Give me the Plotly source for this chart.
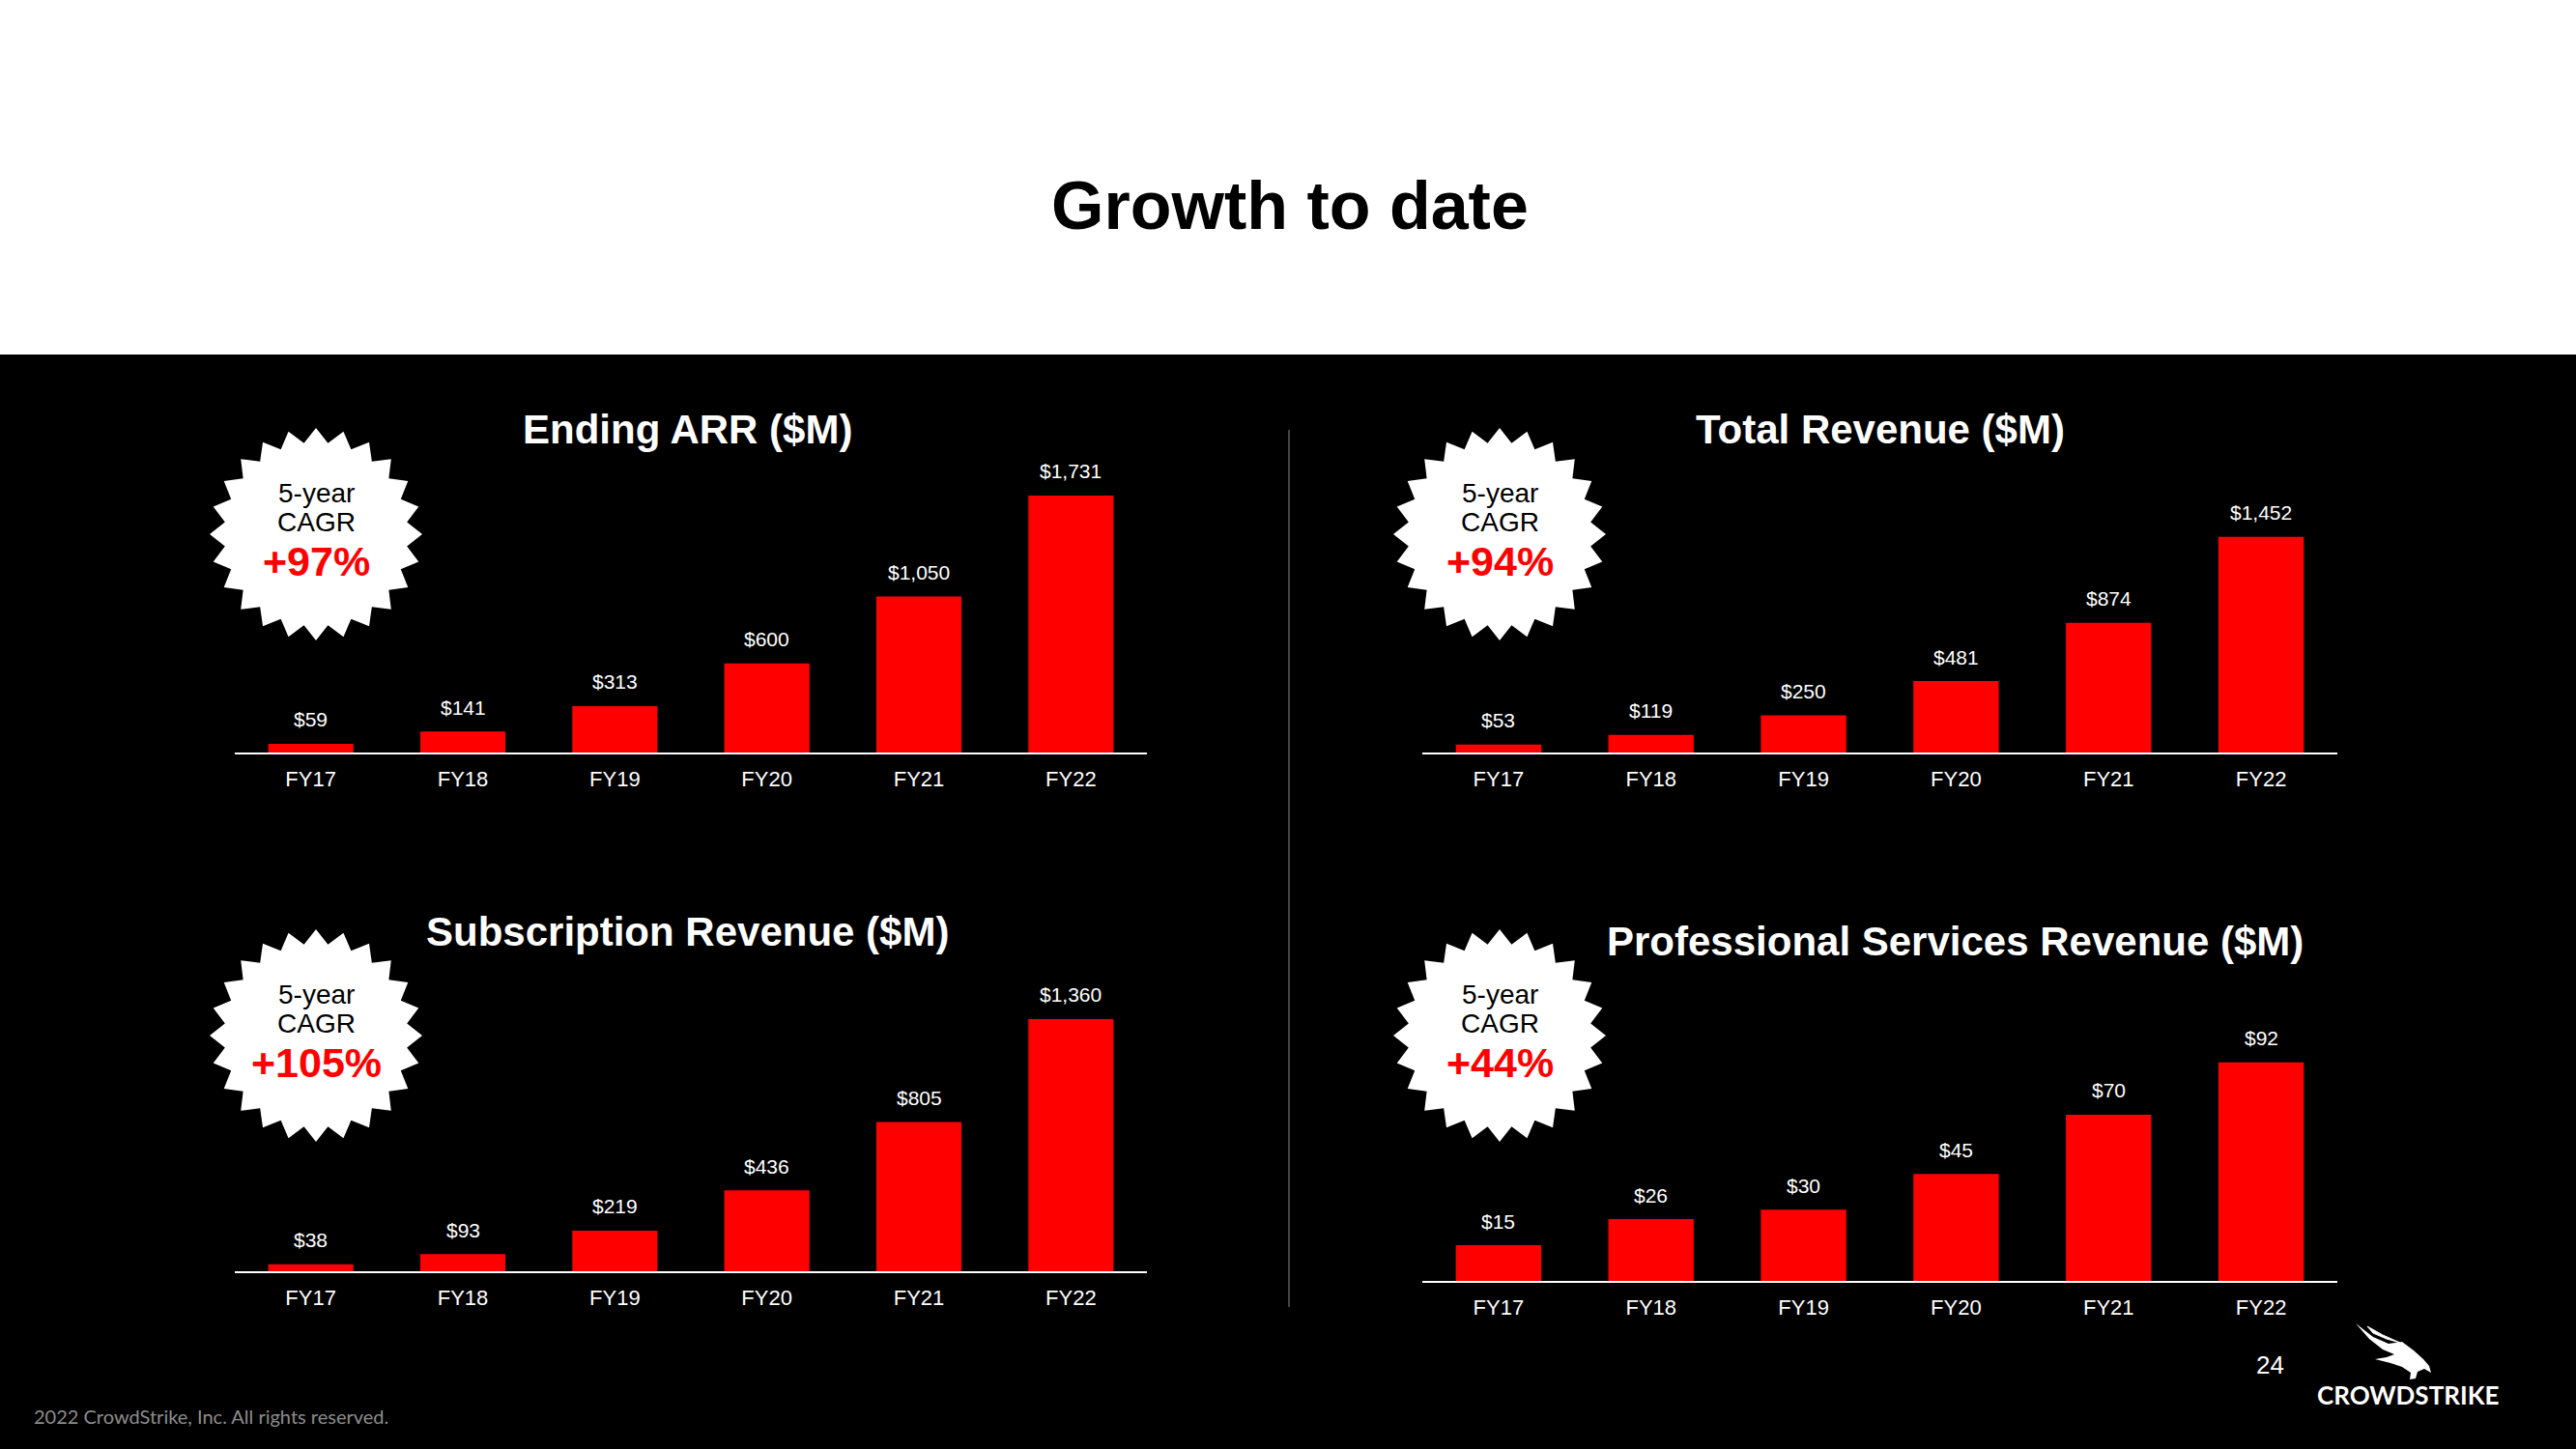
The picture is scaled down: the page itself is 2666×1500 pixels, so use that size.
import numpy as np
import plotly.graph_objects as go

W, H = 2666, 1500

categories = ["FY17", "FY18", "FY19", "FY20", "FY21", "FY22"]
ending_arr = [59, 141, 313, 600, 1050, 1731]
total_revenue = [53, 119, 250, 481, 874, 1452]
subscription_revenue = [38, 93, 219, 436, 805, 1360]
prof_services_revenue = [15, 26, 30, 45, 70, 92]

chart_titles = ["Ending ARR ($M)", "Total Revenue ($M)",
                "Subscription Revenue ($M)", "Professional Services Revenue ($M)"]
cagr_values = ["+97%", "+94%", "+105%", "+44%"]
main_title = "Growth to date"
footer_text = "2022 CrowdStrike, Inc. All rights reserved."
page_number = "24"
brand = "CROWDSTRIKE"

RED = "#ff0000"
FONT = "Liberation Sans, Arial, sans-serif"


def px(x):
    return x / W


def py(y):
    return 1 - y / H


def note(x, y, text, size, color, family=FONT, xanchor="center"):
    return dict(x=px(x), y=py(y), xref="paper", yref="paper", text=text,
                showarrow=False, xanchor=xanchor, yanchor="middle",
                font=dict(family=family, size=size, color=color))


panels = [
    dict(data=ending_arr, x0=243, x1=1187, base=779, top=470, ymax=2010,
         title=(712, 444), badge=(327, 553)),
    dict(data=total_revenue, x0=1472, x1=2419, base=779, top=470, ymax=2010,
         title=(1946, 444), badge=(1552, 553)),
    dict(data=subscription_revenue, x0=243, x1=1187, base=1316, top=1010, ymax=1594,
         title=(712, 964), badge=(327, 1072)),
    dict(data=prof_services_revenue, x0=1472, x1=2419, base=1326, top=1030, ymax=120.4,
         title=(2023, 974), badge=(1552, 1072)),
]

fig = go.Figure()
annotations = []
shapes = []

shapes.append(dict(type="rect", xref="paper", yref="paper", x0=0, x1=1,
                   y0=0, y1=py(367), fillcolor="black", line=dict(width=0), layer="below"))
shapes.append(dict(type="line", xref="paper", yref="paper", x0=px(1334), x1=px(1334),
                   y0=py(445), y1=py(1353), line=dict(color="#5a5a5a", width=1.5)))

for i, p in enumerate(panels):
    n = i + 1
    xa = "x" if n == 1 else f"x{n}"
    ya = "y" if n == 1 else f"y{n}"
    fig.add_trace(go.Bar(x=categories, y=p["data"], xaxis=xa, yaxis=ya,
                         marker=dict(color=RED, line=dict(width=0)), width=0.56,
                         hoverinfo="skip", showlegend=False))
    xkey = "xaxis" if n == 1 else f"xaxis{n}"
    ykey = "yaxis" if n == 1 else f"yaxis{n}"
    fig.update_layout({
        xkey: dict(domain=[px(p["x0"]), px(p["x1"])], anchor=ya, type="category",
                   showgrid=False, zeroline=False, showline=True, linecolor="white",
                   linewidth=2, ticks="outside", ticklen=7, tickcolor="rgba(0,0,0,0)",
                   tickfont=dict(family=FONT, size=22, color="white"),
                   range=[-0.5, 5.5], fixedrange=True),
        ykey: dict(domain=[py(p["base"]), py(p["top"])], anchor=xa, range=[0, p["ymax"]],
                   visible=False, fixedrange=True),
    })
    for c, v in zip(categories, p["data"]):
        annotations.append(dict(x=c, y=v, xref=xa, yref=ya, text=f"${v:,}",
                                showarrow=False, xanchor="center", yanchor="middle",
                                yshift=25,
                                font=dict(family=FONT, size=21, color="white")))
    tx, ty = p["title"]
    annotations.append(note(tx, ty, f"<b>{chart_titles[i]}</b>", 42, "white"))
    bx, by = p["badge"]
    k = 24
    ang = np.pi / 2 + np.arange(2 * k) * np.pi / k
    rad = np.where(np.arange(2 * k) % 2 == 0, 110, 95)
    xs = bx + rad * np.cos(ang)
    ys = by - rad * np.sin(ang)
    path = "M " + " L ".join(f"{px(a):.5f},{py(b):.5f}" for a, b in zip(xs, ys)) + " Z"
    shapes.append(dict(type="path", xref="paper", yref="paper", path=path,
                       fillcolor="white", line=dict(width=0)))
    annotations.append(note(bx, by - 43, "5-year", 28, "black"))
    annotations.append(note(bx, by - 13, "CAGR", 28, "black"))
    annotations.append(note(bx, by + 28, f"<b>{cagr_values[i]}</b>", 43, RED))

annotations.append(note(1335, 213, f"<b>{main_title}</b>", 70, "black"))
annotations.append(note(33, 1466, footer_text, 20, "#8c8c8c",
                        family="Lato, " + FONT, xanchor="left"))
annotations.append(note(2349, 1413, page_number, 26, "white"))
annotations.append(note(2492, 1444, f"<b>{brand}</b>", 26, "white",
                        family="Lato, " + FONT))

falcon = [(2438, 1370), (2456, 1384), (2472, 1391), (2486, 1389), (2498, 1398),
          (2508, 1407), (2514, 1414), (2516, 1421), (2509, 1417), (2502, 1420),
          (2500, 1427), (2494, 1428), (2495, 1421), (2486, 1415), (2474, 1411),
          (2458, 1407), (2470, 1405), (2478, 1402), (2466, 1397), (2452, 1386)]
fpath = "M " + " L ".join(f"{px(a):.5f},{py(b):.5f}" for a, b in falcon) + " Z"
shapes.append(dict(type="path", xref="paper", yref="paper", path=fpath,
                   fillcolor="white", line=dict(width=0)))
streak = [(2450, 1373), (2466, 1382), (2484, 1390), (2470, 1386), (2456, 1380)]
spath = "M " + " L ".join(f"{px(a):.5f},{py(b):.5f}" for a, b in streak) + " Z"
shapes.append(dict(type="path", xref="paper", yref="paper", path=spath,
                   fillcolor="white", line=dict(color="white", width=1)))

fig.update_layout(width=W, height=H, margin=dict(l=0, r=0, t=0, b=0),
                  paper_bgcolor="white", plot_bgcolor="rgba(0,0,0,0)",
                  annotations=annotations, shapes=shapes, showlegend=False)

fig.write_html("out.html", config={"displayModeBar": False},
               post_script="document.body.style.margin='0';document.body.style.overflow='hidden';")
